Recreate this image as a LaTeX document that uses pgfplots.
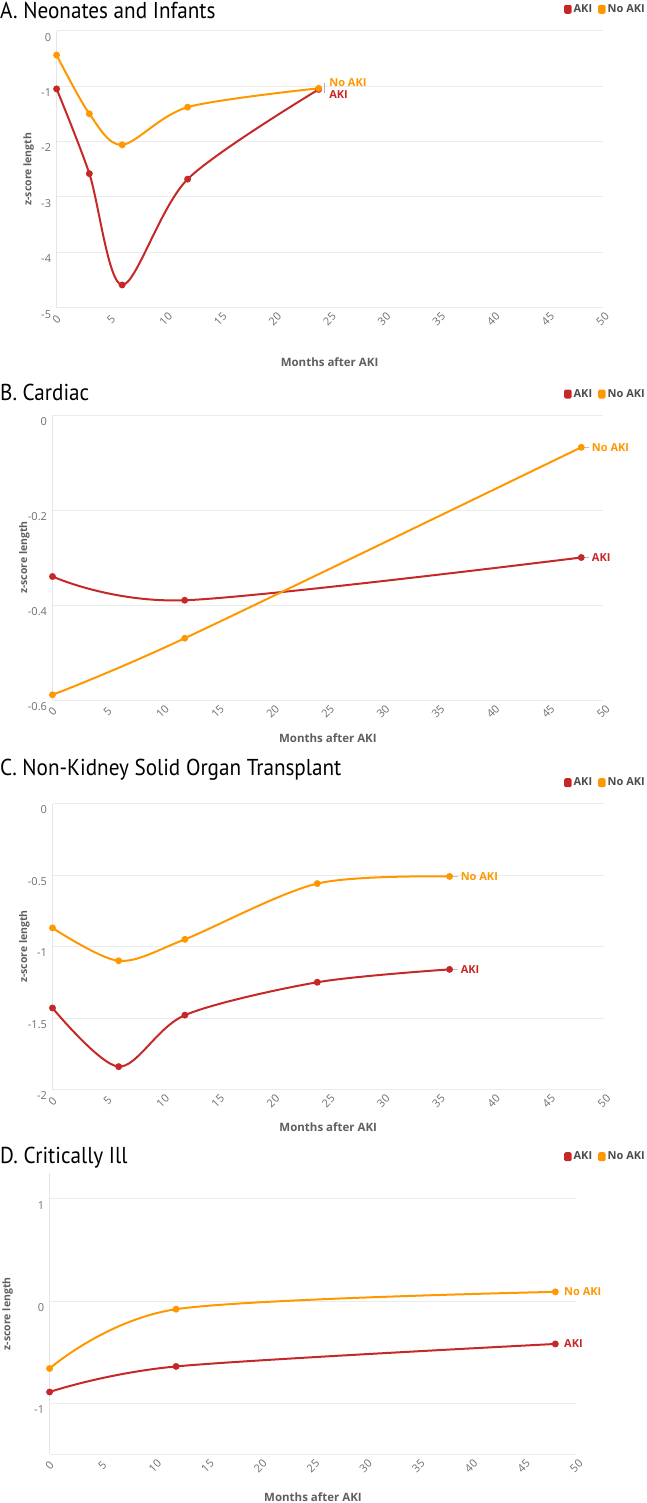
\documentclass[border=0pt]{standalone}
\usepackage{fontspec}
\usepackage{pgfplots}
\pgfplotsset{compat=1.18}
\setmainfont{Open Sans}
\newfontfamily\titlefont[FakeStretch=0.92]{PT Sans}
\definecolor{akired}{RGB}{198,40,40}
\definecolor{akiorange}{RGB}{255,152,0}
\definecolor{tickgray}{RGB}{110,110,110}
\definecolor{labgray}{RGB}{95,95,95}
\newcommand{\lblfont}{\fontsize{11}{12}\selectfont\bfseries}
\pgfplotsset{
 panel/.style={
  scale only axis, xmin=0, xmax=50, xtick={0,5,...,50},
  xticklabels={0,5,10,15,20,25,30,35,40,45,50},
  axis line style={draw=none}, major tick length=0pt,
  ymajorgrids, grid style={black!8, line width=0.9pt},
  tick label style={font=\fontsize{11}{12}\selectfont, text=tickgray},
  yticklabel style={anchor=east, yshift=-6.5pt, xshift=-2pt},
  xticklabel style={yshift=-11.5pt, rotate=45, anchor=center},
  xlabel={Months after AKI}, ylabel={z-score length},
  every axis x label/.style={at={(axis description cs:0.5,0)}, yshift=-38pt, anchor=center, font=\fontsize{11.5}{13}\selectfont\bfseries, text=labgray},
  every axis y label/.style={at={(axis description cs:0,0.5)}, xshift=-28pt, rotate=90, anchor=center, font=\fontsize{10.5}{12}\selectfont\bfseries, text=labgray},
  legend columns=2,
  legend style={draw=none, fill=none, inner sep=0pt, font=\fontsize{11}{12}\selectfont\bfseries, text=black!70, at={(1,1)}, anchor=east, /tikz/every even column/.append style={column sep=4pt}},
  legend image code/.code={\fill[#1, draw=none, rounded corners=1.5pt] (0pt,-4.5pt) rectangle (7.5pt,4.5pt);},
  clip=false,
 },
 aki/.style={color=akired, line width=2pt, smooth, mark=*, mark size=2.4pt},
 naki/.style={color=akiorange, line width=2pt, smooth, mark=*, mark size=2.4pt},
}
\begin{document}
\begin{tikzpicture}
\path[use as bounding box] (0,0) rectangle (647pt,-1503pt);
% titles
\node[anchor=base west, inner sep=0pt, font=\titlefont\fontsize{23}{26}\selectfont] at (0pt,-18.3pt) {A. Neonates and Infants};
\node[anchor=base west, inner sep=0pt, font=\titlefont\fontsize{23}{26}\selectfont] at (0pt,-400pt) {B. Cardiac};
\node[anchor=base west, inner sep=0pt, font=\titlefont\fontsize{23}{26}\selectfont] at (0pt,-775pt) {C. Non-Kidney Solid Organ Transplant};
\node[anchor=base west, inner sep=0pt, font=\titlefont\fontsize{23}{26}\selectfont] at (0pt,-1163.3pt) {D. Critically Ill};

% Panel A
\begin{axis}[panel, at={(56.6pt,-307.7pt)}, anchor=south west, width=545.9pt, height=277pt,
  ymin=-5, ymax=0, ytick={0,-1,-2,-3,-4,-5}, yticklabels={0,-1,-2,-3,-4,-5},
  every axis x label/.append style={yshift=-16pt},
  legend style={xshift=44.5pt, yshift=21.4pt}]
\draw[black!10, line width=0.9pt] (rel axis cs:0,0) -- (rel axis cs:0,1);
\addplot[aki] coordinates {(0,-1.05) (3,-2.58) (6,-4.59) (12,-2.68) (24,-1.06)};
\addlegendentry{AKI}
\addplot[naki] coordinates {(0,-0.44) (3,-1.50) (6,-2.06) (12,-1.38) (24,-1.04)};
\addlegendentry{No AKI}
\draw[black!30, line width=0.8pt] ([xshift=5.5pt,yshift=6pt]axis cs:24,-1.05) -- ([xshift=5.5pt,yshift=-4.5pt]axis cs:24,-1.05);
\node[anchor=west, inner sep=0pt, text=akiorange, font=\lblfont] at ([xshift=10.5pt,yshift=6.6pt]axis cs:24,-1.05) {No AKI};
\node[anchor=west, inner sep=0pt, text=akired, font=\lblfont] at ([xshift=10.5pt,yshift=-6.1pt]axis cs:24,-1.05) {AKI};
\end{axis}

% Panel B
\begin{axis}[panel, at={(52.5pt,-700pt)}, anchor=south west, width=550.8pt, height=285pt,
  ymin=-0.6, ymax=0, ytick={0,-0.2,-0.4,-0.6}, yticklabels={0,-0.2,-0.4,-0.6},
  legend style={xshift=43.7pt, yshift=21pt}]
\draw[black!10, line width=0.9pt] (rel axis cs:0,0) -- (rel axis cs:0,1);
\addplot[aki] coordinates {(0,-0.340) (12,-0.390) (48,-0.300)};
\addlegendentry{AKI}
\addplot[naki] coordinates {(0,-0.589) (12,-0.470) (48,-0.068)};
\addlegendentry{No AKI}
\draw[black!25, line width=0.8pt] ([xshift=3pt]axis cs:48,-0.068) -- ([xshift=8pt]axis cs:48,-0.068);
\draw[black!25, line width=0.8pt] ([xshift=3pt]axis cs:48,-0.300) -- ([xshift=8pt]axis cs:48,-0.300);
\node[anchor=west, inner sep=0pt, text=akiorange, font=\lblfont] at ([xshift=10.5pt]axis cs:48,-0.068) {No AKI};
\node[anchor=west, inner sep=0pt, text=akired, font=\lblfont] at ([xshift=10.5pt]axis cs:48,-0.300) {AKI};
\end{axis}

% Panel C
\begin{axis}[panel, at={(52.5pt,-1089.5pt)}, anchor=south west, width=551.5pt, height=286pt,
  ymin=-2, ymax=0, ytick={0,-0.5,-1,-1.5,-2}, yticklabels={0,-0.5,-1,-1.5,-2},
  legend style={xshift=43pt, yshift=20.8pt}]
\draw[black!10, line width=0.9pt] (rel axis cs:0,0) -- (rel axis cs:0,1);
\addplot[aki] coordinates {(0,-1.43) (6,-1.84) (12,-1.48) (24,-1.25) (36,-1.16)};
\addlegendentry{AKI}
\addplot[naki] coordinates {(0,-0.87) (6,-1.10) (12,-0.95) (24,-0.56) (36,-0.51)};
\addlegendentry{No AKI}
\draw[black!25, line width=0.8pt] ([xshift=3pt]axis cs:36,-0.51) -- ([xshift=8pt]axis cs:36,-0.51);
\draw[black!25, line width=0.8pt] ([xshift=3pt]axis cs:36,-1.16) -- ([xshift=8pt]axis cs:36,-1.16);
\node[anchor=west, inner sep=0pt, text=akiorange, font=\lblfont] at ([xshift=11pt]axis cs:36,-0.51) {No AKI};
\node[anchor=west, inner sep=0pt, text=akired, font=\lblfont] at ([xshift=11pt]axis cs:36,-1.16) {AKI};
\end{axis}

% Panel D
\begin{axis}[panel, at={(49.6pt,-1454.3pt)}, anchor=south west, width=526.8pt, height=281pt,
  ymin=-1.5, ymax=1.25, ytick={-1,0,1}, yticklabels={-1,0,1},
  extra y ticks={-1.5}, extra y tick labels={},
  every axis x label/.append style={yshift=-4.5pt},
  every axis y label/.append style={yshift=14pt},
  legend style={xshift=70.6pt, yshift=16.6pt}]
\draw[black!10, line width=0.9pt] (rel axis cs:0,0) -- (rel axis cs:0,1);
\addplot[aki] coordinates {(0,-0.89) (12,-0.64) (48,-0.42)};
\addlegendentry{AKI}
\addplot[naki] coordinates {(0,-0.66) (12,-0.08) (48,0.09)};
\addlegendentry{No AKI}
\node[anchor=west, inner sep=0pt, text=akiorange, font=\lblfont] at ([xshift=8.7pt]axis cs:48,0.09) {No AKI};
\node[anchor=west, inner sep=0pt, text=akired, font=\lblfont] at ([xshift=8.7pt]axis cs:48,-0.42) {AKI};
\end{axis}
\end{tikzpicture}
\end{document}
